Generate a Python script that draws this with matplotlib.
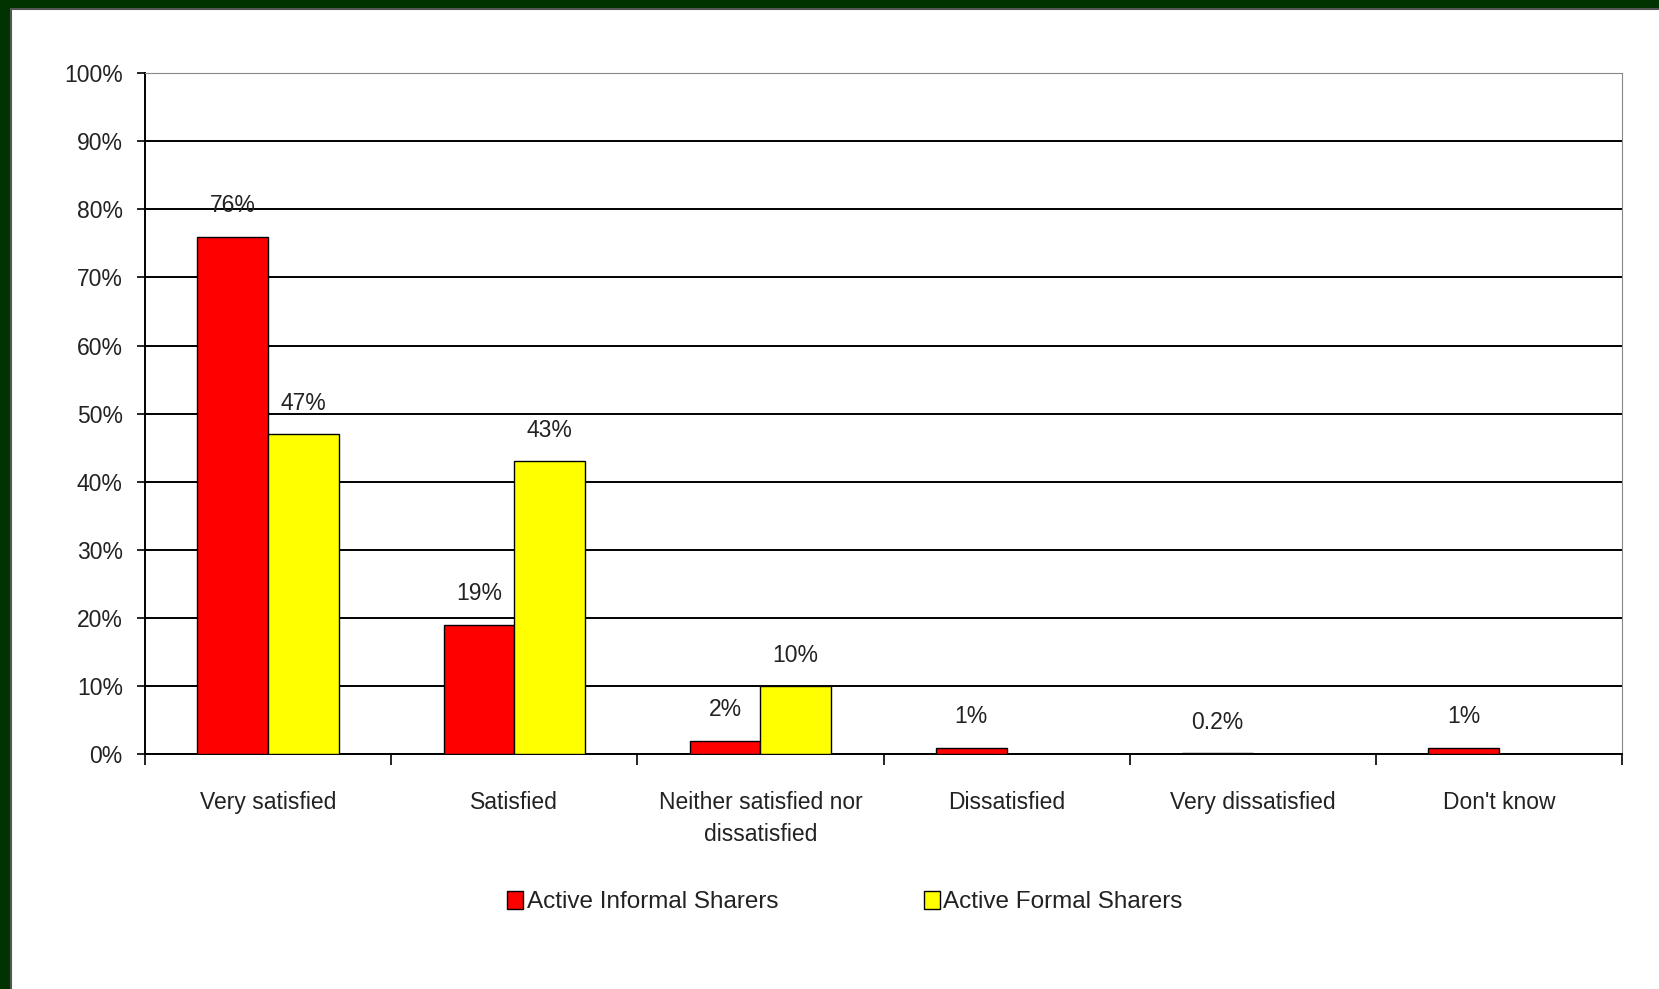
import matplotlib
matplotlib.use('Agg')
import matplotlib.pyplot as plt
import matplotlib.patches as mpatches
import numpy as np

plt.rcParams['font.family'] = ['Liberation Sans', 'DejaVu Sans']

# ── Dados ─────────────────────────────────────────────────────────────────────
CATEGORIES = ["Very satisfied", "Satisfied", "Neither satisfied nor\ndissatisfied",
              "Dissatisfied", "Very dissatisfied", "Don't know"]
INFORMAL = [76, 19, 2, 1, 0.2, 1]
FORMAL = [47, 43, 10, 0, 0, 0]
INFORMAL_LABELS = ["76%", "19%", "2%", "1%", "0.2%", "1%"]
FORMAL_LABELS = ["47%", "43%", "10%", "", "", ""]
SERIES = ["Active Informal Sharers", "Active Formal Sharers"]

RED = "#FF0000"
YELLOW = "#FFFF00"
BORDER = "#013301"
FS = 16.5

W, H = 1659, 989
fig = plt.figure(figsize=(W / 100, H / 100), dpi=100)
fig.patch.set_facecolor(BORDER)

# painel branco com moldura verde no topo e à esquerda
panel = mpatches.Rectangle((11 / W, -0.02), 1.05, 1 - 9 / H + 0.02,
                           transform=fig.transFigure, facecolor='white',
                           edgecolor='#555555', linewidth=1.5, zorder=-10)
fig.patches.append(panel)

ax = fig.add_axes([145 / W, 1 - 754.4 / H, (1622 - 145) / W, (754.4 - 73) / H])
ax.set_facecolor('white')

x = np.arange(len(CATEGORIES))
bw = 0.287
b1 = ax.bar(x - bw / 2, INFORMAL, bw, color=RED, edgecolor='black', linewidth=1.0,
            zorder=3, label=SERIES[0])
b2 = ax.bar(x + bw / 2, FORMAL, bw, color=YELLOW, edgecolor='black', linewidth=1.0,
            zorder=3, label=SERIES[1])

for bars, labels in ((b1, INFORMAL_LABELS), (b2, FORMAL_LABELS)):
    for rect, lab in zip(bars, labels):
        if not lab:
            continue
        ax.annotate(lab, (rect.get_x() + rect.get_width() / 2, rect.get_height()),
                    xytext=(0, 14), textcoords='offset points',
                    ha='center', va='bottom', fontsize=FS, color='#222222', zorder=4)

ax.set_ylim(0, 100)
ax.set_xlim(-0.5, len(CATEGORIES) - 0.5)
ax.set_yticks(np.arange(0, 101, 10))
ax.set_yticklabels([f"{v}%" for v in range(0, 101, 10)], fontsize=FS, color='#222222')
ax.yaxis.grid(True, color='black', linewidth=1.4, zorder=1)
ax.set_axisbelow(True)
ax.tick_params(axis='y', length=6, width=1.2, pad=10, direction='out')

# ticks nas fronteiras das categorias, rótulos centrados
ax.set_xticks(np.arange(-0.5, len(CATEGORIES), 1.0))
ax.set_xticklabels([])
ax.set_xticks(x, minor=True)
ax.set_xticklabels(CATEGORIES, minor=True, fontsize=FS, color='#222222',
                   linespacing=1.5)
ax.tick_params(axis='x', which='major', length=8, width=1.2, direction='out')
ax.tick_params(axis='x', which='minor', length=0, pad=26)

ax.spines['left'].set_linewidth(1.4)
ax.spines['bottom'].set_linewidth(1.4)
ax.spines['top'].set_color('#888888')
ax.spines['right'].set_color('#888888')

handles = [mpatches.Patch(facecolor=RED, edgecolor='black', linewidth=1.0),
           mpatches.Patch(facecolor=YELLOW, edgecolor='black', linewidth=1.0)]
fig.legend(handles, SERIES, loc='center', bbox_to_anchor=(845 / W, 1 - 902 / H),
           ncol=2, frameon=False, fontsize=17.5, handlelength=0.65, handleheight=0.8,
           handletextpad=0.15, columnspacing=6.0, labelcolor='#222222')

fig.savefig('out.png', dpi=100, facecolor=fig.get_facecolor())
